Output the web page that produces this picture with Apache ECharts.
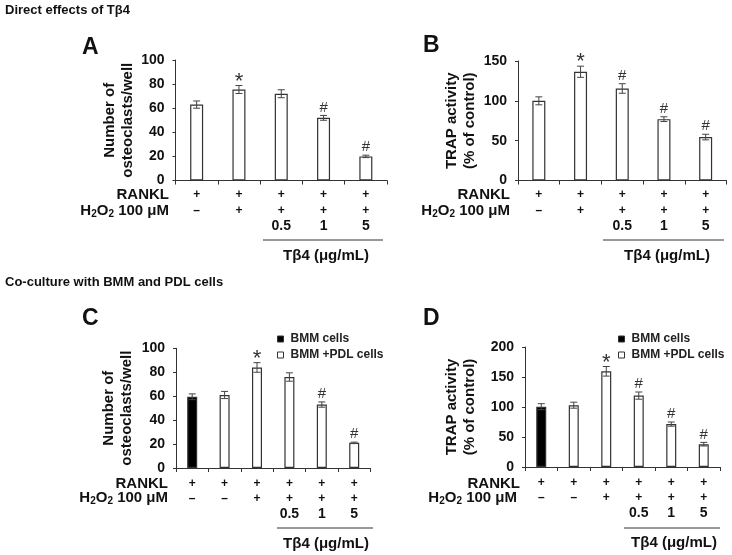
<!DOCTYPE html>
<html>
<head>
<meta charset="utf-8">
<script src="https://cdn.jsdelivr.net/npm/echarts@6/dist/echarts.min.js"></script>
<style>html,body{margin:0;padding:0;background:#fff}#c{width:732px;height:555px}</style>
</head>
<body>
<div id="c"></div>
<script>
// ---------- data ----------
const catsAB = ['G1', 'G2', 'G3', 'G4', 'G5'];
const catsCD = ['G1', 'G2', 'G3', 'G4', 'G5', 'G6'];

const ranklAB = ['+', '+', '+', '+', '+'];
const h2o2AB = ['–', '+', '+', '+', '+'];
const tb4AB = ['', '', '0.5', '1', '5'];

const ranklCD = ['+', '+', '+', '+', '+', '+'];
const h2o2CD = ['–', '–', '+', '+', '+', '+'];
const tb4CD = ['', '', '', '0.5', '1', '5'];

const osteoA = [63, 75.5, 72, 52, 20];
const osteoAErr = [3, 3.3, 3.3, 2, 1];
const markA = ['', '*', '', '#', '#'];

const trapB = [100, 136.5, 115.5, 77, 54.5];
const trapBErr = [5, 7, 6, 3, 3.5];
const markB = ['', '*', '#', '#', '#'];

const osteoC = [59.5, 61, 84, 76, 53, 21];
const osteoCErr = [2.4, 3, 4, 3.5, 2.2, 0.6];
const markC = ['', '', '*', '', '#', '#'];

const trapD = [100.5, 103, 159.5, 119, 71.5, 38];
const trapDErr = [5, 5, 8, 6, 3.5, 3];
const markD = ['', '', '*', '#', '#', '#'];

const cellNames = ['BMM cells', 'BMM +PDL cells'];
const cellTypeCD = [0, 1, 1, 1, 1, 1];

const yTitleOsteo = 'Number of\nosteoclasts/well';
const yTitleTrap = 'TRAP activity\n(% of control)';
const tb4Label = 'Tβ4 (μg/mL)';

// ---------- chart ----------
const FONT = 'Liberation Sans, Arial, sans-serif';
const chart = echarts.init(document.getElementById('c'));

const grids = [
  {left: 175.5, top: 60, width: 211.5, height: 120.5},
  {left: 518, top: 61, width: 208.5, height: 119.5},
  {left: 176, top: 348.3, width: 194.4, height: 119.7},
  {left: 525, top: 347, width: 195, height: 120}
];

function xAxisFor(idx, cats, r1, r2, r3, lh) {
  return {
    gridIndex: idx, type: 'category', data: cats,
    axisLine: {lineStyle: {color: '#333', width: 1}},
    axisTick: {show: true, length: 4, lineStyle: {color: '#333'}},
    axisLabel: {
      margin: lh.m, interval: 0,
      formatter: function (v, i) {
        return '{r|' + r1[i] + '}\n{h|' + r2[i] + '}\n{v|' + (r3[i] || ' ') + '}';
      },
      rich: {
        r: {fontFamily: FONT, fontWeight: 'bold', fontSize: 12, color: '#111', lineHeight: lh.a},
        h: {fontFamily: FONT, fontWeight: 'bold', fontSize: 12, color: '#111', lineHeight: lh.b},
        v: {fontFamily: FONT, fontWeight: 'bold', fontSize: 14, color: '#111', lineHeight: lh.c}
      }
    }
  };
}

function yAxisFor(idx, max, interval, name, gap) {
  return {
    gridIndex: idx, type: 'value', min: 0, max: max, interval: interval,
    name: name, nameLocation: 'middle', nameRotate: 90, nameGap: gap,
    nameTextStyle: {fontFamily: FONT, fontWeight: 'bold', fontSize: 15, color: '#111', lineHeight: 18},
    splitLine: {show: false},
    axisLine: {show: true, lineStyle: {color: '#333', width: 1}},
    axisTick: {show: true, length: 3, lineStyle: {color: '#333'}},
    axisLabel: {margin: 11, fontFamily: FONT, fontWeight: 'bold', fontSize: 14, color: '#111'}
  };
}

function errSeries(idx, vals, errs, marks) {
  return {
    type: 'custom', xAxisIndex: idx, yAxisIndex: idx, z: 5,
    data: vals.map((v, i) => [i, v, errs[i]]),
    renderItem: function (params, api) {
      const i = api.value(0), v = api.value(1), e = api.value(2);
      const t = api.coord([i, v + e]);
      const b = api.coord([i, v - e]);
      const w = 3.5;
      const st = {stroke: '#444', lineWidth: 1};
      const ch = [
        {type: 'line', shape: {x1: t[0], y1: t[1], x2: b[0], y2: b[1]}, style: st},
        {type: 'line', shape: {x1: t[0] - w, y1: t[1], x2: t[0] + w, y2: t[1]}, style: st},
        {type: 'line', shape: {x1: b[0] - w, y1: b[1], x2: b[0] + w, y2: b[1]}, style: st}
      ];
      const m = marks[params.dataIndex];
      if (m) {
        const star = m === '*';
        ch.push({
          type: 'text',
          style: {
            text: m, x: t[0], y: t[1] - (star ? 4 : 8),
            align: 'center', verticalAlign: 'middle',
            font: (star ? '22px ' : '15px ') + FONT, fill: '#333'
          }
        });
      }
      return {type: 'group', children: ch};
    }
  };
}

function barSeries(idx, vals, width, name, filter, color) {
  return {
    type: 'bar', name: name, xAxisIndex: idx, yAxisIndex: idx,
    barWidth: width, barGap: '-100%',
    data: vals.map((v, i) => (filter ? (filter(i) ? v : '-') : v)),
    itemStyle: {color: color, borderColor: '#333', borderWidth: 1.2},
    emphasis: {disabled: true}
  };
}

const txt = (text, x, y, font, align) => ({
  type: 'text', x: x, y: y,
  style: {text: text, font: font, fill: '#111', align: align || 'left', verticalAlign: 'middle'}
});
const h2o2Text = (x, y) => ({
  type: 'text', x: x, y: y,
  style: {
    text: '{n|H}{s|2}{n|O}{s|2}{n| 100 μM}', align: 'right', verticalAlign: 'middle',
    rich: {
      n: {fontFamily: FONT, fontWeight: 'bold', fontSize: 15, fill: '#111', lineHeight: 16},
      s: {fontFamily: FONT, fontWeight: 'bold', fontSize: 10, fill: '#111', lineHeight: 16, verticalAlign: 'bottom'}
    }
  }
});
const hline = (x1, x2, y) => ({
  type: 'line', shape: {x1: x1, y1: y, x2: x2, y2: y}, style: {stroke: '#333', lineWidth: 1}
});

const B15 = 'bold 15px ' + FONT;
const graphics = [
  txt('Direct effects of Tβ4', 5, 10.5, 'bold 13px ' + FONT),
  txt('Co-culture with BMM and PDL cells', 5, 282, 'bold 13px ' + FONT),
  txt('A', 82, 48, 'bold 23px ' + FONT),
  txt('B', 423, 46, 'bold 23px ' + FONT),
  txt('C', 82, 319, 'bold 23px ' + FONT),
  txt('D', 423, 319, 'bold 23px ' + FONT),
  txt('RANKL', 169, 195, B15, 'right'), h2o2Text(169, 211),
  txt('RANKL', 510, 195, B15, 'right'), h2o2Text(510, 211),
  txt('RANKL', 168, 484, B15, 'right'), h2o2Text(168, 498),
  txt('RANKL', 520, 484, B15, 'right'), h2o2Text(517, 498),
  hline(263, 383, 240), txt(tb4Label, 326, 256, B15, 'center'),
  hline(603, 724, 240), txt(tb4Label, 667, 256, B15, 'center'),
  hline(277, 373, 528), txt(tb4Label, 326, 544, B15, 'center'),
  hline(624, 720, 528), txt(tb4Label, 674, 543, B15, 'center')
];

const lhAB = {m: 6, a: 16, b: 16, c: 16};
const lhCD = {m: 7.5, a: 16, b: 14, c: 18};

const legendCommon = {
  orient: 'vertical', itemWidth: 6, itemHeight: 6, itemGap: 4, icon: 'rect',
  data: cellNames, selectedMode: false,
  itemStyle: {borderWidth: 1, borderColor: '#333'},
  textStyle: {fontFamily: FONT, fontWeight: 'bold', fontSize: 12, color: '#222', padding: [0, 0, 0, 2]}
};

chart.setOption({
  animation: false,
  backgroundColor: '#fff',
  grid: grids,
  xAxis: [
    xAxisFor(0, catsAB, ranklAB, h2o2AB, tb4AB, lhAB),
    xAxisFor(1, catsAB, ranklAB, h2o2AB, tb4AB, lhAB),
    xAxisFor(2, catsCD, ranklCD, h2o2CD, tb4CD, lhCD),
    xAxisFor(3, catsCD, ranklCD, h2o2CD, tb4CD, lhCD)
  ],
  yAxis: [
    yAxisFor(0, 100, 20, yTitleOsteo, 34),
    yAxisFor(1, 150, 50, yTitleTrap, 39),
    yAxisFor(2, 100, 20, yTitleOsteo, 40),
    yAxisFor(3, 200, 50, yTitleTrap, 46)
  ],
  legend: [
    Object.assign({left: 272, top: 328}, legendCommon),
    Object.assign({left: 613, top: 328}, legendCommon)
  ],
  series: [
    barSeries(0, osteoA, 13, 'A', null, '#fff'),
    errSeries(0, osteoA, osteoAErr, markA),
    barSeries(1, trapB, 13, 'B', null, '#fff'),
    errSeries(1, trapB, trapBErr, markB),
    barSeries(2, osteoC, 10, cellNames[0], i => cellTypeCD[i] === 0, '#000'),
    barSeries(2, osteoC, 10, cellNames[1], i => cellTypeCD[i] === 1, '#fff'),
    errSeries(2, osteoC, osteoCErr, markC),
    barSeries(3, trapD, 10, cellNames[0], i => cellTypeCD[i] === 0, '#000'),
    barSeries(3, trapD, 10, cellNames[1], i => cellTypeCD[i] === 1, '#fff'),
    errSeries(3, trapD, trapDErr, markD)
  ],
  graphic: graphics
});
</script>
</body>
</html>
